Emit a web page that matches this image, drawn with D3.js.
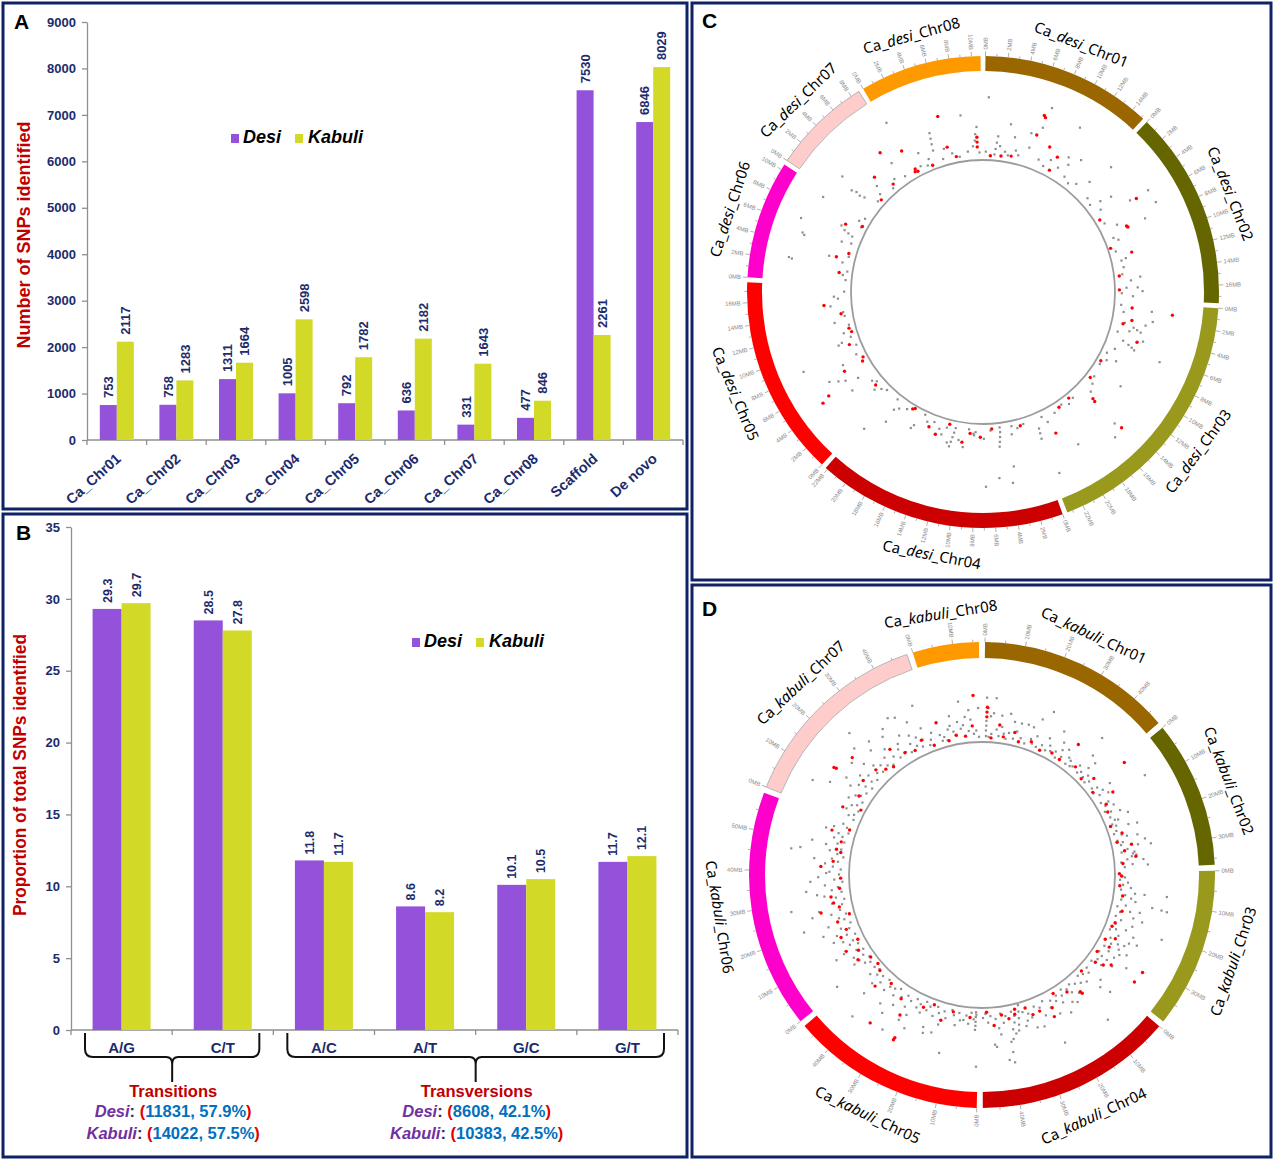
<!DOCTYPE html>
<html><head><meta charset="utf-8">
<script src="https://cdn.jsdelivr.net/npm/d3@7"></script>
<style>body{margin:0;background:#fff}svg{display:block}</style>
</head><body>
<svg id="fig" width="1275" height="1162"></svg>
<script>
// ---------------- DATA ----------------
const snpCategories = ["Ca_Chr01","Ca_Chr02","Ca_Chr03","Ca_Chr04","Ca_Chr05","Ca_Chr06","Ca_Chr07","Ca_Chr08","Scaffold","De novo"];
const snpDesi   = [753,758,1311,1005,792,636,331,477,7530,6846];
const snpKabuli = [2117,1283,1664,2598,1782,2182,1643,846,2261,8029];
const snpTicks  = [0,1000,2000,3000,4000,5000,6000,7000,8000,9000];

const subTypes  = ["A/G","C/T","A/C","A/T","G/C","G/T"];
const subDesi   = [29.3,28.5,11.8,8.6,10.1,11.7];
const subKabuli = [29.7,27.8,11.7,8.2,10.5,12.1];
const subTicks  = [0,5,10,15,20,25,30,35];
const groupNames  = ["Transitions","Transversions"];
const groupSpans  = [["A/G","C/T"],["A/C","G/T"]];
const groupDesi   = ["11831, 57.9%","8608, 42.1%"];
const groupKabuli = ["14022, 57.5%","10383, 42.5%"];

const chrNames  = ["Chr01","Chr02","Chr03","Chr04","Chr05","Chr06","Chr07","Chr08"];
const chrColors = ["#996600","#666600","#99991e","#cc0000","#ff0000","#ff00cc","#ffcccc","#ff9900"];
const desiChrSizes   = [15.2,17.6,23.5,22.2,17.8,10.5,8.8,10.8];
const kabuliChrSizes = [48.4,36.6,39.9,49.2,48.2,59.4,48.9,16.5];

// SNP points: "position(MB),value" pairs per chromosome
const desiGray = [
 "0.4,76 7.2,78 7.0,51 5.9,40 11.5,32 10.8,71 1.5,5 1.6,12 1.7,20 1.8,28 0.2,8 3.0,10 3.5,6 4.5,14 5.0,9 8.0,12 9.0,7 12.5,9 13.5,5 14.5,11 2.2,16 6.2,22 9.6,18 11.0,14 12.0,24 13.0,38 4.0,30 3.2,45",
 "0.65,56 0.05,24 5.2,75 6.7,76 5.1,49 3.4,32 7.8,55 13.0,11 1.5,8 2.5,5 4.0,12 6.0,7 8.5,9 9.0,14 10.5,6 12.0,10 14.0,8 15.0,18 16.0,12 16.8,6 17.2,20 16.0,26 16.5,32 11.8,16 14.6,30 7.0,20 3.0,18",
 "1.0,45 2.2,48 3.6,31 3.4,26 3.8,36 4.0,22 6.0,31 6.2,35 5.8,26 6.4,70 11.0,41 14.8,65 15.8,78 19.5,57 22.8,78 23.0,17 23.1,23 23.2,30 0.5,6 1.5,10 3.0,14 4.5,8 7.0,12 8.0,5 9.0,9 10.0,4 12.0,7 13.0,11 16.5,6 17.5,9 18.5,4 20.0,8 22.0,5 2.8,40 4.8,42 5.5,18 8.5,20 14.0,16 21.5,14",
 "21.9,59 20.4,35 20.5,17 20.0,12 17.2,25 17.0,20 16.2,2 11.2,6 11.3,12 11.4,18 11.5,24 11.6,30 6.8,76 5.3,66 3.9,74 3.5,54 4.6,3 4.6,9 4.7,15 4.8,21 4.9,27 1.0,5 2.0,8 2.8,4 6.0,6 8.5,10 9.2,5 12.5,8 13.5,12 14.5,6 15.5,9 19.0,7 21.0,4 8.2,8 8.4,12 10.5,20 12.0,26 13.0,18 7.0,16 3.0,14 9.8,28",
 "16.3,19 16.0,14 12.7,22 13.4,8 9.8,20 9.6,25 8.3,78 5.1,37 5.5,45 6.0,55 3.6,37 1.8,15 0.5,4 1.2,8 2.5,6 3.0,10 7.5,9 8.8,4 10.2,7 12.0,5 14.0,9 17.0,6 11.0,14 15.0,24 4.5,22 7.0,30",
 "9.8,65 6.7,78 5.3,70 5.1,67 2.4,79 2.3,75 7.0,10 7.2,16 7.4,22 7.8,28 0.5,5 1.2,9 1.8,4 3.0,12 4.0,6 6.0,8 8.8,5 9.5,11 10.2,6 5.8,20 3.5,30",
 "1.6,34 1.5,28 1.7,22 1.4,40 2.5,6 3.5,10 5.5,4 6.5,12 8.0,7 4.0,20 7.5,30 2.0,60",
 "10.2,39 8.4,55 4.0,20 4.1,28 4.2,35 4.3,42 0.3,76 1.5,8 2.5,5 3.0,12 5.0,6 6.5,10 7.5,4 8.8,9 9.6,15 10.5,7 9.9,22 10.0,30 5.5,18 2.0,24"
];
const desiRed = [
 "6.7,66 6.9,64 6.6,40 8.7,32 10.2,25 10.1,6 0.9,3 2.5,4 4.0,6",
 "5.3,57 5.2,4 7.9,31 7.7,30 11.2,25 9.8,1 14.2,4 16.3,3",
 "1.1,71 2.5,22 5.1,35 14.5,24 14.6,28 14.6,75 21.2,31 9.5,3 12.5,4 17.0,3 19.0,5 0.8,20 3.2,12",
 "18.0,1 18.3,3 10.0,22 7.5,14 1.5,6 5.8,4 13.8,20 9.0,10 12.2,3 15.0,14",
 "15.2,32 10.9,4 11.5,6 6.7,3 4.7,65 4.4,76 6.2,32 6.2,6 2.2,10 13.8,12 9.2,12",
 "8.2,24 3.6,21 4.5,7 1.5,14 9.0,4",
 "7.1,49 4.6,30 5.9,8 3.0,4",
 "10.2,14 10.2,20 10.2,26 5.8,59 6.0,19 0.2,36 3.2,3 7.0,5 0.4,5 0.6,8 0.8,4"
];
const kabuliGray = [
 "0.9,5 0.8,12 0.9,18 0.9,24 0.9,53 4.0,53 40.4,59 25.6,22 23.0,54 11.4,27 14.0,27 16.5,28 18.6,27 35.8,14 38.0,6 2,4 3,8 5,14 6,6 7,18 8,10 9,4 10,12 12,6 13,16 15,9 17,4 19,12 20,7 21,18 22,5 24,10 26,6 27,14 28,8 30,11 31,4 32,17 33,9 34,22 36,5 37,12 39,8 41,15 42,6 43,10 44,20 45,7 46,13 47,4 48,9 2.5,30 6.5,32 9.5,36 20.5,40 29,38 31,26 42,35 44.5,30 1.5,40 3.5,34",
 "7.7,70 16.6,11 15.8,30 30.4,24 31.0,22 31.6,26 32.0,20 35.5,39 1,6 2,12 3,4 4,16 5,9 6,20 8,5 9,14 10,8 11,18 12,4 13,11 14,22 15,7 17,15 18,6 19,10 20,25 21,8 22,4 23,13 24,19 25,6 26,12 27,9 28,30 29,16 30,8 33,14 34,6 35,20 36,10 20.5,36 24.5,32 26.5,40 28.5,46 33.5,34 3.5,28",
 "8,36 7.8,64 12,48 12.2,60 12.4,67 8,24 11,26 20.8,70 29.6,26 31.2,30 20,30 1,5 2,10 3,4 4,14 5,8 6,18 7,6 9,12 10,20 11,8 13,15 14,5 15,22 16,10 17,28 18,6 19,14 21,9 22,24 23,12 24,5 25,18 26,34 27,10 28,22 29,14 30,38 31,8 32,16 33,26 34,6 35,12 36,30 37,10 38,18 39,5 14.5,34 17.5,40 23.5,36 25.5,44 27.5,30 33.8,46 35.2,20",
 "8.5,71 23.1,65 39.4,43 39.4,56 39.4,69 44.4,47 29.4,34 34,0 34.5,8 35,16 35.5,24 36,31 36.5,12 37,20 37.5,6 38,28 33,10 32,22 1,29 3,35 1.9,48 45,44 40.9,65 1,6 2,12 4,8 5,18 6,5 7,14 9,10 10,22 11,6 12,16 13,9 14,26 15,5 16,12 17,20 18,8 19,14 20,30 21,10 22,18 24,6 25,24 26,12 27,36 28,8 30,20 31,14 33,28 40,10 41,18 42,6 43,24 44,12 46,8 47,16 48,5 49,10 38.5,40 37.2,34 42.5,32 16.5,36 12.5,30",
 "0.5,71 12.2,60 41.1,71 31.4,61 19.2,42 19.8,35 7.3,15 1.2,3 1.2,9 1.2,15 1.2,20 1.3,25 1,6 2,12 3,4 4,18 5,8 6,14 8,6 9,22 10,10 11,4 13,16 14,8 15,26 16,12 17,5 18,18 20,8 21,14 22,4 23,20 24,10 25,16 26,6 27,30 28,12 29,22 30,8 32,14 33,28 34,6 35,18 36,10 37,36 38,12 39,20 40,6 42,16 43,8 44,24 45,12 46,5 47,18 48,8 16.5,38 25.5,46 28.5,40 34.5,44 43.5,40",
 "27.8,74 20.9,65 14.2,35 1.2,60 31.8,39 3.8,26 39.5,26 33.3,52 55.7,35 46.7,72 47.5,61 1,8 2,14 3,5 4,18 5,10 6,22 7,6 8,14 9,30 10,8 11,18 12,12 13,24 14,6 15,16 16,28 17,10 18,20 19,6 20,34 21,12 22,18 23,8 24,26 25,14 26,40 27,10 28,22 29,6 30,16 31,30 32,8 33,20 34,12 35,28 36,6 37,16 38,36 39,10 40,22 41,8 42,18 43,28 44,12 45,20 46,6 47,14 48,24 49,10 50,30 51,16 52,8 53,22 54,12 55,18 56,6 57,26 58,10 59,16 8.5,42 17.5,44 24.5,50 36.5,46 44.5,42 50.5,48",
 "45.3,60 36.7,60 38.7,56 24.7,74 7.1,74 9.3,54 1,6 2,14 3,8 4,20 5,5 6,16 7,10 8,24 9,6 10,18 11,12 12,30 13,8 14,22 15,14 16,6 17,28 18,12 19,20 20,8 21,34 22,14 23,24 24,10 25,18 26,40 27,12 28,22 29,8 30,30 31,16 32,44 33,10 34,20 35,26 36,12 37,34 38,8 39,18 40,28 41,12 42,22 43,8 44,16 45,30 46,6 47,12 48,20 13.5,40 18.5,46 27.5,50 33.5,52 41.5,44 22.5,56",
 "15.9,40 9.4,50 2,10 4,18 6,14 8,25 10,20 12,12 14,8 3,5 11,30 1,6 5,22 7,8 9,16 13,26 15,12 16,4 5.5,34 12.5,38 0.5,14"
];
const kabuliRed = [
 "1.0,29 1.0,35 1.1,41 35.6,34 12.2,14 29,7 48.3,16 3,3 8,6 14.5,4 19.5,9 24,3 33,5 40,10 45,4 6,20",
 "0.9,58 6.8,25 12.6,7 32.2,25 2.5,4 9.5,10 18.5,3 22.5,14 25.5,5 29.5,12 34.5,8 27.5,22",
 "32.2,66 36,64 35.8,28 20.7,8 0.5,3 1.5,6 5.5,4 9.5,9 15.5,12 22.5,6 26.5,16 30.5,14 34.5,4 37.5,20 38.5,10 28.5,5",
 "22.4,30 29.4,17 21.6,19 9.2,25 9.4,22 36.2,10 38.8,14 35.8,4 41.5,8 26.5,16 18.5,4 31.5,6 13.5,12 3.5,4 44.8,20 47.5,3",
 "26.8,62 26.9,65 35.7,63 29,34 48.5,2 3.5,10 10.5,6 14.5,20 22.5,12 31.8,16 38.5,8 42.5,24 45.5,6 18.8,4",
 "25.5,38 28.1,20 26.2,14 20.8,21 14.9,24 4.5,19 41.8,33 55.4,27 48.8,16 47.8,10 2.5,4 7.5,12 11.5,6 17,14 22.5,4 33.5,10 37.5,8 44,18 52,12 57.5,6 30.5,22 9.5,26",
 "19.9,50 13.8,60 14.0,57 16.3,21 3.9,25 6.0,3 10.5,14 22.5,18 28.5,6 31.5,26 35.5,12 39.5,8 43.5,16 47.5,4 25.5,10",
 "14.4,56 0.5,30 6.8,9 3.5,4 10.5,6 13.5,18"
];

// ---------------- STYLE ----------------
const NAVY = "#1c2b6b", DESI = "#9452da", KAB = "#d2da27", AXIS = "#8f8f8f";
const FONT = "'Liberation Sans', Arial, sans-serif";
const svg = d3.select("#fig");

[[3,3,684,506],[3,514,684,643],[692,3,579,577],[692,585,579,572]].forEach(f=>{
  svg.append("rect").attr("x",f[0]).attr("y",f[1]).attr("width",f[2]).attr("height",f[3])
    .attr("fill","#fff").attr("stroke","#102266").attr("stroke-width",3);
});
function letter(t,x,y){ svg.append("text").attr("x",x).attr("y",y).text(t)
  .attr("font-family",FONT).attr("font-weight","bold").attr("font-size",21).attr("fill","#000"); }
letter("A",14,29); letter("B",16,540); letter("C",702,28); letter("D",702,616);

function styleAxis(g){
  g.select(".domain").attr("stroke",AXIS).attr("stroke-width",1.3);
  g.selectAll(".tick line").attr("stroke",AXIS).attr("stroke-width",1.3);
  g.selectAll(".tick text").attr("font-family",FONT).attr("font-weight","bold")
    .attr("font-size",13).attr("fill",NAVY);
}
function legend(g,x,y){
  g.append("rect").attr("x",x).attr("y",y-9).attr("width",8).attr("height",9).attr("fill",DESI);
  g.append("text").attr("x",x+12).attr("y",y).text("Desi");
  g.append("rect").attr("x",x+64).attr("y",y-9).attr("width",8).attr("height",9).attr("fill",KAB);
  g.append("text").attr("x",x+77).attr("y",y).text("Kabuli");
  g.selectAll("text").attr("font-family",FONT).attr("font-weight","bold").attr("font-style","italic")
    .attr("font-size",18).attr("fill","#000");
}

// ---------------- PANEL A ----------------
(function(){
  const g = svg.append("g");
  const x = d3.scaleBand().domain(snpCategories).range([87,683]);
  const y = d3.scaleLinear().domain([0,9000]).range([440,22]);
  const bw = 17, c = d => x(d)+x.bandwidth()/2;
  const ax = g.append("g").attr("transform","translate(87,0)")
    .call(d3.axisLeft(y).tickValues(snpTicks).tickFormat(d3.format("d")).tickSize(5).tickSizeOuter(0).tickPadding(6));
  styleAxis(ax);
  g.append("line").attr("x1",87).attr("x2",683).attr("y1",y(0)).attr("y2",y(0)).attr("stroke",AXIS).attr("stroke-width",1.3);
  g.selectAll(".xt").data(snpCategories.map(d=>x(d)).concat([683])).join("line")
    .attr("x1",d=>d).attr("x2",d=>d).attr("y1",y(0)).attr("y2",y(0)+5).attr("stroke",AXIS).attr("stroke-width",1.3);
  g.selectAll(".bd").data(snpCategories).join("rect").attr("x",d=>c(d)-bw).attr("width",bw)
    .attr("y",(d,i)=>y(snpDesi[i])).attr("height",(d,i)=>y(0)-y(snpDesi[i])).attr("fill",DESI);
  g.selectAll(".bk").data(snpCategories).join("rect").attr("x",d=>c(d)).attr("width",bw)
    .attr("y",(d,i)=>y(snpKabuli[i])).attr("height",(d,i)=>y(0)-y(snpKabuli[i])).attr("fill",KAB);
  const lab = (arr,off)=> g.selectAll(null).data(snpCategories).join("text")
    .attr("transform",(d,i)=>`translate(${c(d)+off},${y(arr[i])-7}) rotate(-90)`)
    .attr("dy","0.36em").text((d,i)=>arr[i])
    .attr("font-family",FONT).attr("font-weight","bold").attr("font-size",13).attr("fill",NAVY);
  lab(snpDesi,-bw/2); lab(snpKabuli,bw/2);
  g.selectAll(".xl").data(snpCategories).join("text")
    .attr("transform",d=>`translate(${c(d)+5},${y(0)+20}) rotate(-42)`)
    .attr("text-anchor","end").text(d=>d)
    .attr("font-family",FONT).attr("font-weight","bold").attr("font-size",14.5).attr("fill",NAVY);
  g.append("text").attr("transform","translate(30,235) rotate(-90)").attr("text-anchor","middle")
    .text("Number of SNPs identified").attr("font-family",FONT).attr("font-weight","bold")
    .attr("font-size",18).attr("fill","#c00000");
  legend(g.append("g"),231,143);
})();

// ---------------- PANEL B ----------------
(function(){
  const g = svg.append("g");
  const x = d3.scaleBand().domain(subTypes).range([71,678]);
  const y = d3.scaleLinear().domain([0,35]).range([1030,527]);
  const bw = 29, c = d => x(d)+x.bandwidth()/2;
  const ax = g.append("g").attr("transform","translate(71,0)")
    .call(d3.axisLeft(y).tickValues(subTicks).tickFormat(d3.format("d")).tickSize(5).tickSizeOuter(0).tickPadding(6));
  styleAxis(ax);
  g.append("line").attr("x1",71).attr("x2",678).attr("y1",y(0)).attr("y2",y(0)).attr("stroke",AXIS).attr("stroke-width",1.3);
  g.selectAll(".xt").data(subTypes.map(d=>x(d)).concat([678])).join("line")
    .attr("x1",d=>d).attr("x2",d=>d).attr("y1",y(0)).attr("y2",y(0)+5).attr("stroke",AXIS).attr("stroke-width",1.3);
  g.selectAll(".bd").data(subTypes).join("rect").attr("x",d=>c(d)-bw).attr("width",bw)
    .attr("y",(d,i)=>y(subDesi[i])).attr("height",(d,i)=>y(0)-y(subDesi[i])).attr("fill",DESI);
  g.selectAll(".bk").data(subTypes).join("rect").attr("x",d=>c(d)).attr("width",bw)
    .attr("y",(d,i)=>y(subKabuli[i])).attr("height",(d,i)=>y(0)-y(subKabuli[i])).attr("fill",KAB);
  const lab = (arr,off)=> g.selectAll(null).data(subTypes).join("text")
    .attr("transform",(d,i)=>`translate(${c(d)+off},${y(arr[i])-6}) rotate(-90)`)
    .attr("dy","0.36em").text((d,i)=>arr[i].toFixed(1))
    .attr("font-family",FONT).attr("font-weight","bold").attr("font-size",12.5).attr("fill",NAVY);
  lab(subDesi,-bw/2); lab(subKabuli,bw/2);
  g.selectAll(".xl").data(subTypes).join("text").attr("x",c).attr("y",1053).attr("text-anchor","middle")
    .text(d=>d).attr("font-family",FONT).attr("font-weight","bold").attr("font-size",15).attr("fill",NAVY);
  g.append("text").attr("transform","translate(26,775) rotate(-90)").attr("text-anchor","middle")
    .attr("textLength",282).attr("lengthAdjust","spacingAndGlyphs")
    .text("Proportion of total SNPs identified").attr("font-family",FONT).attr("font-weight","bold")
    .attr("font-size",17.5).attr("fill","#c00000");
  legend(g.append("g"),412,647);
  groupNames.forEach((name,k)=>{
    const x1 = x(groupSpans[k][0])+14, x2 = x(groupSpans[k][1])+x.bandwidth()-14, xm=(x1+x2)/2;
    const yt=1033, yh=1057, yp=1082;
    g.append("path").attr("d",
      `M${x1},${yt} V${yh-8} Q${x1},${yh} ${x1+8},${yh} H${xm-6} Q${xm},${yh} ${xm},${yh+7} V${yp}`+
      ` M${xm},${yh+7} Q${xm},${yh} ${xm+6},${yh} H${x2-8} Q${x2},${yh} ${x2},${yh-8} V${yt}`)
      .attr("fill","none").attr("stroke","#111").attr("stroke-width",2);
    const cx = xm+1;
    g.append("text").attr("x",cx).attr("y",1097).attr("text-anchor","middle").text(name)
      .attr("font-family",FONT).attr("font-weight","bold").attr("font-size",16.5).attr("fill","#c00000");
    [["Desi",groupDesi[k],1117],["Kabuli",groupKabuli[k],1139]].forEach(([nm,val,yy])=>{
      const t = g.append("text").attr("x",cx).attr("y",yy).attr("text-anchor","middle")
        .attr("font-family",FONT).attr("font-weight","bold").attr("font-size",16.5);
      t.append("tspan").text(nm).attr("font-style","italic").attr("fill","#7030a0");
      t.append("tspan").text(": ").attr("fill","#3a2a5a");
      t.append("tspan").text("(").attr("fill","#e00000");
      t.append("tspan").text(val).attr("fill","#0070c0");
      t.append("tspan").text(")").attr("fill","#e00000");
    });
  });
})();

// ---------------- CIRCOS ----------------
function drawCircos(o){
  const n = o.sizes.length;
  const degPer = (360 - o.gap*n)/d3.sum(o.sizes);
  let a = o.gap/2;
  const chrs = o.sizes.map((s,i)=>{ const st=a, en=a+s*degPer; a=en+o.gap;
    return {i,s,st,en,sc:d3.scaleLinear().domain([0,s]).range([st,en])}; });
  const rad = d=>d*Math.PI/180;
  const pol = (deg,r)=>[r*Math.sin(rad(deg)), -r*Math.cos(rad(deg))];
  const G = svg.append("g").attr("transform",`translate(${o.cx},${o.cy})`);
  const arc = d3.arc().innerRadius(o.ringIn).outerRadius(o.ringOut);
  G.selectAll("path.chr").data(chrs).join("path").attr("class","chr")
    .attr("d",c=>arc({startAngle:rad(c.st),endAngle:rad(c.en)}))
    .attr("fill",c=>chrColors[c.i]).attr("stroke",c=>c.i===6?"#b5b5b5":"none").attr("stroke-width",1);
  chrs.forEach(c=>{
    d3.range(0,c.s+1e-6,o.minor).forEach(v=>{
      const deg=c.sc(v), major=Math.abs(v/o.major-Math.round(v/o.major))<1e-6;
      const p1=pol(deg,o.ringOut), p2=pol(deg,o.ringOut+(major?4.5:2.5));
      G.append("line").attr("x1",p1[0]).attr("y1",p1[1]).attr("x2",p2[0]).attr("y2",p2[1])
        .attr("stroke","#9a9a9a").attr("stroke-width",0.8);
      if(major){
        const p=pol(deg,o.ringOut+6.5), right=deg<180;
        G.append("text").attr("transform",`translate(${p[0]},${p[1]}) rotate(${right?deg-90:deg+90})`)
          .attr("text-anchor",right?"start":"end").attr("dy","0.35em").text(Math.round(v)+"MB")
          .attr("font-family",FONT).attr("font-size",6).attr("fill","#8a8a8a");
      }
    });
    const mid=(c.st+c.en)/2, p=pol(mid,o.labelR), rot=(mid>90&&mid<270)?mid-180:mid;
    const t=G.append("text").attr("transform",`translate(${p[0]},${p[1]}) rotate(${rot})`)
      .attr("text-anchor","middle").attr("dominant-baseline","central")
      .attr("font-family","'Noto Sans', 'Open Sans', sans-serif").attr("font-size",15).attr("fill","#000");
    t.append("tspan").text("Ca_");
    t.append("tspan").text(o.race).attr("font-style","italic");
    t.append("tspan").text("_"+chrNames[c.i]);
  });
  G.append("circle").attr("r",o.innerR).attr("fill","none").attr("stroke","#9c9c9c").attr("stroke-width",1.8);
  const rS = d3.scaleLinear().domain([0,100]).range([o.innerR+2,o.innerR+82]);
  const parse = (str,c)=>str.trim().split(/\s+/).map(s=>{const [pp,h]=s.split(",").map(Number);
    return {deg:c.sc(Math.min(pp,c.s)),r:rS(h)};});
  const gray=[], red=[];
  chrs.forEach(c=>{ gray.push(...parse(o.gray[c.i],c)); red.push(...parse(o.red[c.i],c)); });
  G.selectAll("rect.g").data(gray).join("rect").attr("class","g")
    .attr("x",d=>pol(d.deg,d.r)[0]-1.1).attr("y",d=>pol(d.deg,d.r)[1]-1.1)
    .attr("width",2.2).attr("height",2.2).attr("fill","#8e8e8e");
  G.selectAll("circle.r").data(red).join("circle").attr("class","r")
    .attr("cx",d=>pol(d.deg,d.r)[0]).attr("cy",d=>pol(d.deg,d.r)[1]).attr("r",1.7).attr("fill","#ff0000");
}
drawCircos({cx:983,cy:292,sizes:desiChrSizes,gap:1.2,ringOut:236,ringIn:221,innerR:132,labelR:267,
  major:2,minor:1,race:"desi",gray:desiGray,red:desiRed});
drawCircos({cx:982,cy:875,sizes:kabuliChrSizes,gap:1.5,ringOut:233,ringIn:217,innerR:133,labelR:265,
  major:10,minor:5,race:"kabuli",gray:kabuliGray,red:kabuliRed});
</script>
</body></html>
